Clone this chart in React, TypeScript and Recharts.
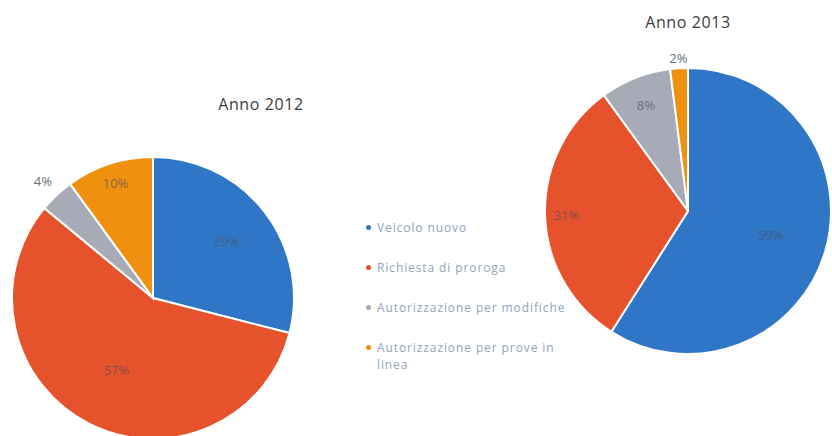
import { PieChart, Pie, Cell } from 'recharts';

const categories = [
  'Veicolo nuovo',
  'Richiesta di proroga',
  'Autorizzazione per modifiche',
  'Autorizzazione per prove in linea',
];
const values2012 = [29, 57, 4, 10];
const values2013 = [59, 31, 8, 2];

const COLORS = ['#2f77c6', '#e5522b', '#a7aab7', '#f0900f'];
const FONT = '"Open Sans", "DejaVu Sans", sans-serif';
const RAD = Math.PI / 180;

const toRows = (values: number[]) => categories.map((name, i) => ({ name, value: values[i] }));
const data2012 = toRows(values2012);
const data2013 = toRows(values2013);

// label distance from centre, as a fraction of the radius, per slice
const labelPos2012 = [0.66, 0.57, 1.14, 0.86];
const labelPos2013 = [0.6, 0.85, 0.8, 1.07];

const makeLabel = (pos: number[]) => (props: any) => {
  const { cx, cy, outerRadius, midAngle, index, value } = props;
  const r = outerRadius * pos[index];
  const x = cx + r * Math.cos(-midAngle * RAD);
  const y = cy + r * Math.sin(-midAngle * RAD);
  const outside = pos[index] > 1;
  return (
    <text
      x={x}
      y={y}
      textAnchor="middle"
      dominantBaseline="central"
      fontFamily={FONT}
      fontSize={13}
      fill={outside ? '#6b6f78' : '#4d5160'}
      fillOpacity={outside ? 1 : 0.7}
    >
      {value}%
    </text>
  );
};

function LegendBox() {
  return (
    <div
      style={{
        position: 'absolute',
        left: 366,
        top: 219,
        fontFamily: FONT,
        fontSize: 12,
        letterSpacing: 0.9,
        color: '#95a2bd',
        width: 220,
      }}
    >
      {categories.map((c, i) => (
        <div key={c} style={{ display: 'flex', alignItems: 'flex-start', marginBottom: 23, lineHeight: '17px' }}>
          <span
            style={{
              width: 5,
              height: 5,
              borderRadius: '50%',
              background: COLORS[i],
              marginTop: 6,
              marginRight: 6,
              flexShrink: 0,
            }}
          />
          <span style={{ width: 196 }}>{c}</span>
        </div>
      ))}
    </div>
  );
}

export default function App() {
  return (
    <div style={{ position: 'fixed', left: 0, top: 0, width: 832, height: 436, background: '#fff' }}>
      <PieChart width={832} height={436} margin={{ top: 0, right: 0, bottom: 0, left: 0 }}>
        <text x={261} y={104} textAnchor="middle" dominantBaseline="central" fontFamily={FONT} fontSize={16} letterSpacing={0.6} fill="#3c3c3c">
          Anno 2012
        </text>
        <text x={688} y={22} textAnchor="middle" dominantBaseline="central" fontFamily={FONT} fontSize={16} letterSpacing={0.6} fill="#3c3c3c">
          Anno 2013
        </text>
        <Pie
          data={data2012}
          dataKey="value"
          nameKey="name"
          cx={153}
          cy={298}
          outerRadius={141}
          startAngle={90}
          endAngle={-270}
          stroke="#ffffff"
          strokeWidth={2}
          label={makeLabel(labelPos2012)}
          labelLine={false}
          isAnimationActive={false}
        >
          {data2012.map((d, i) => (
            <Cell key={d.name} fill={COLORS[i]} />
          ))}
        </Pie>
        <Pie
          data={data2013}
          dataKey="value"
          nameKey="name"
          cx={688}
          cy={211}
          outerRadius={143}
          startAngle={90}
          endAngle={-270}
          stroke="#ffffff"
          strokeWidth={2}
          label={makeLabel(labelPos2013)}
          labelLine={false}
          isAnimationActive={false}
        >
          {data2013.map((d, i) => (
            <Cell key={d.name} fill={COLORS[i]} />
          ))}
        </Pie>
      </PieChart>
      <LegendBox />
    </div>
  );
}
